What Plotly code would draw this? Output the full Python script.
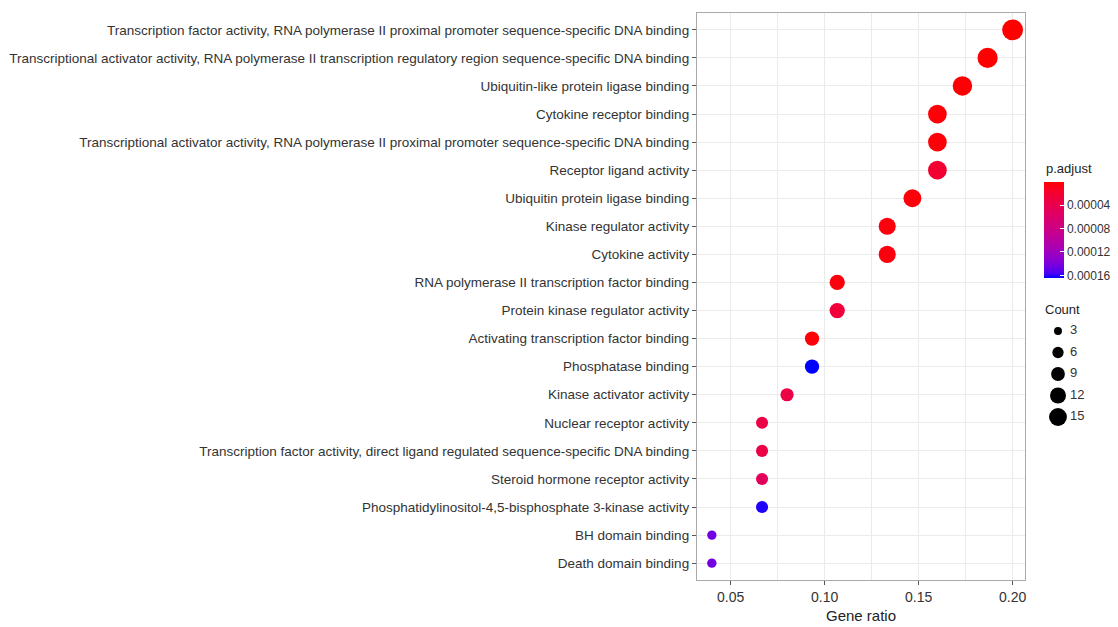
import math
import plotly.graph_objects as go

# ---------------- data ----------------
terms = [
    "Transcription factor activity, RNA polymerase II proximal promoter sequence-specific DNA binding",
    "Transcriptional activator activity, RNA polymerase II transcription regulatory region sequence-specific DNA binding",
    "Ubiquitin-like protein ligase binding",
    "Cytokine receptor binding",
    "Transcriptional activator activity, RNA polymerase II proximal promoter sequence-specific DNA binding",
    "Receptor ligand activity",
    "Ubiquitin protein ligase binding",
    "Kinase regulator activity",
    "Cytokine activity",
    "RNA polymerase II transcription factor binding",
    "Protein kinase regulator activity",
    "Activating transcription factor binding",
    "Phosphatase binding",
    "Kinase activator activity",
    "Nuclear receptor activity",
    "Transcription factor activity, direct ligand regulated sequence-specific DNA binding",
    "Steroid hormone receptor activity",
    "Phosphatidylinositol-4,5-bisphosphate 3-kinase activity",
    "BH domain binding",
    "Death domain binding",
]
gene_ratio = [0.2000, 0.1867, 0.1733, 0.1600, 0.1600, 0.1600, 0.1467, 0.1333, 0.1333, 0.1067,
              0.1067, 0.0933, 0.0933, 0.0800, 0.0667, 0.0667, 0.0667, 0.0667, 0.0400, 0.0400]
counts = [15, 14, 13, 12, 12, 12, 11, 10, 10, 8, 8, 7, 7, 6, 5, 5, 5, 5, 3, 3]
p_adjust = [1.0e-6, 1.5e-6, 2.0e-6, 3.0e-6, 3.0e-6, 2.3e-5, 4.0e-6, 5.0e-6, 5.0e-6, 5.0e-6,
            2.7e-5, 4.0e-6, 1.65e-4, 3.5e-5, 3.5e-5, 3.5e-5, 5.0e-5, 1.62e-4, 1.45e-4, 1.45e-4]
cbar_ticks = [0.00004, 0.00008, 0.00012, 0.00016]
cbar_labels = ["0.00004", "0.00008", "0.00012", "0.00016"]
size_legend = [3, 6, 9, 12, 15]

# ---------------- colour scale (red -> blue interpolated in Lab) ----------------
WHITE = (0.95047, 1.0, 1.08883)


def _lin(c):
    c = c / 255.0
    return c / 12.92 if c <= 0.04045 else ((c + 0.055) / 1.055) ** 2.4


def _gam(c):
    c = max(0.0, min(1.0, c))
    v = 12.92 * c if c <= 0.0031308 else 1.055 * c ** (1 / 2.4) - 0.055
    return int(round(v * 255))


def _f(t):
    return t ** (1 / 3) if t > 0.008856 else 7.787 * t + 16 / 116


def _finv(t):
    return t ** 3 if t > 0.206893 else (t - 16 / 116) / 7.787


def rgb2lab(rgb):
    r, g, b = (_lin(v) for v in rgb)
    X = 0.4124 * r + 0.3576 * g + 0.1805 * b
    Y = 0.2126 * r + 0.7152 * g + 0.0722 * b
    Z = 0.0193 * r + 0.1192 * g + 0.9505 * b
    fx, fy, fz = _f(X / WHITE[0]), _f(Y / WHITE[1]), _f(Z / WHITE[2])
    return (116 * fy - 16, 500 * (fx - fy), 200 * (fy - fz))


def lab2rgb(lab):
    L, a, bb = lab
    fy = (L + 16) / 116
    fx = fy + a / 500
    fz = fy - bb / 200
    X, Y, Z = _finv(fx) * WHITE[0], _finv(fy) * WHITE[1], _finv(fz) * WHITE[2]
    r = 3.2406 * X - 1.5372 * Y - 0.4986 * Z
    g = -0.9689 * X + 1.8758 * Y + 0.0415 * Z
    b = 0.0557 * X - 0.2040 * Y + 1.0570 * Z
    return "rgb(%d,%d,%d)" % (_gam(r), _gam(g), _gam(b))


lab_blue = rgb2lab((0, 0, 255))
lab_red = rgb2lab((255, 0, 0))
colorscale = []
N = 24
for i in range(N + 1):
    s = i / N
    lab = tuple(lab_blue[k] + (lab_red[k] - lab_blue[k]) * s for k in range(3))
    colorscale.append([s, lab2rgb(lab)])

# colour value is -p so that low p.adjust (red) sits at the top of the bar
cvals = [-p for p in p_adjust]

# ---------------- geometry (screen pixels; page body has an 8px margin) ----------------
OFF = 8
W, H = 1118 - OFF, 627 - OFF
SCR_PANEL_L, SCR_PANEL_R, SCR_PANEL_T, SCR_PANEL_B = 697, 1025, 13, 580
ML = SCR_PANEL_L - OFF
MT = SCR_PANEL_T - OFF
MB = H - (SCR_PANEL_B - OFF)
MR = 0
PW = W - ML - MR
PH = H - MT - MB


def px_x(x):
    return (x - OFF - ML) / PW


def px_y(y):
    return (MT + PH - (y - OFF)) / PH


font_family = "Liberation Sans, Arial, Helvetica, sans-serif"

fig = go.Figure()

fig.add_trace(go.Scatter(
    x=gene_ratio, y=terms, mode="markers",
    marker=dict(
        size=[5.4 * math.sqrt(c) for c in counts],
        sizemode="diameter",
        color=cvals, colorscale=colorscale,
        cmin=-max(p_adjust), cmax=-min(p_adjust),
        line=dict(width=0), opacity=1,
        colorbar=dict(
            x=px_x(1044), xanchor="left", xpad=0,
            y=px_y(230.3), yanchor="middle", ypad=0,
            len=96, lenmode="pixels", thickness=20, thicknessmode="pixels",
            outlinewidth=0,
            tickvals=[-t for t in cbar_ticks], ticktext=cbar_labels,
            ticks="inside", ticklen=4, tickcolor="white", tickwidth=1,
            tickfont=dict(size=12, color="#333333", family=font_family),
        ),
    ),
    hoverinfo="x+y",
))

# size legend
fig.add_trace(go.Scatter(
    x=[0] * len(size_legend), y=list(range(len(size_legend))),
    mode="markers", xaxis="x2", yaxis="y2", cliponaxis=False,
    marker=dict(size=[4.6 * math.sqrt(c) for c in size_legend], color="#000000",
                opacity=1, line=dict(width=0)),
    hoverinfo="skip",
))
fig.add_trace(go.Scatter(
    x=[1.2] * len(size_legend), y=list(range(len(size_legend))),
    mode="text", xaxis="x2", yaxis="y2", cliponaxis=False,
    text=[str(v) for v in size_legend], textposition="middle right",
    textfont=dict(size=13, color="#333333", family=font_family),
    hoverinfo="skip",
))

grid = "#ebebeb"
border = "#aaaaaa"
tickc = "#555555"

fig.update_layout(
    width=W, height=H,
    margin=dict(l=ML, r=MR, t=MT, b=MB, autoexpand=False),
    paper_bgcolor="white", plot_bgcolor="white",
    showlegend=False,
    font=dict(family=font_family, color="#333333"),
    xaxis=dict(
        domain=[0, (SCR_PANEL_R - SCR_PANEL_L) / PW],
        range=[0.0321, 0.2066],
        tickvals=[0.05, 0.10, 0.15, 0.20], ticktext=["0.05", "0.10", "0.15", "0.20"],
        tickfont=dict(size=14, color="#333333"),
        showgrid=True, gridcolor=grid, gridwidth=1,
        minor=dict(tickvals=[0.075, 0.125, 0.175], showgrid=True, gridcolor=grid, gridwidth=1),
        ticks="outside", ticklen=4, tickcolor=tickc, tickwidth=1,
        showline=True, mirror=True, linecolor=border, linewidth=1.3,
        zeroline=False,
        title=dict(text="Gene ratio", font=dict(size=15, color="#222222"), standoff=6),
        fixedrange=True,
    ),
    yaxis=dict(
        type="category", categoryorder="array", categoryarray=terms,
        range=[len(terms) - 0.4, -0.6],
        tickfont=dict(size=13.5, color="#333333"),
        showgrid=True, gridcolor=grid, gridwidth=1,
        ticks="outside", ticklen=4, tickcolor=tickc, tickwidth=1,
        showline=True, mirror=True, linecolor=border, linewidth=1.3,
        zeroline=False, fixedrange=True,
    ),
    xaxis2=dict(domain=[px_x(1050), px_x(1080)], range=[-0.8, 2.2], visible=False,
                anchor="y2", fixedrange=True),
    yaxis2=dict(domain=[px_y(430), px_y(320)], range=[4 + (430 - 417) / 21.5, -(331 - 320) / 21.5],
                visible=False, anchor="x2", fixedrange=True),
    annotations=[
        dict(text="p.adjust", x=px_x(1044), y=px_y(168), xref="paper", yref="paper",
             xanchor="left", yanchor="middle", showarrow=False,
             font=dict(size=13, color="#222222")),
        dict(text="Count", x=px_x(1043), y=px_y(309), xref="paper", yref="paper",
             xanchor="left", yanchor="middle", showarrow=False,
             font=dict(size=13, color="#222222")),
    ],
)

fig.write_html("out.html")
